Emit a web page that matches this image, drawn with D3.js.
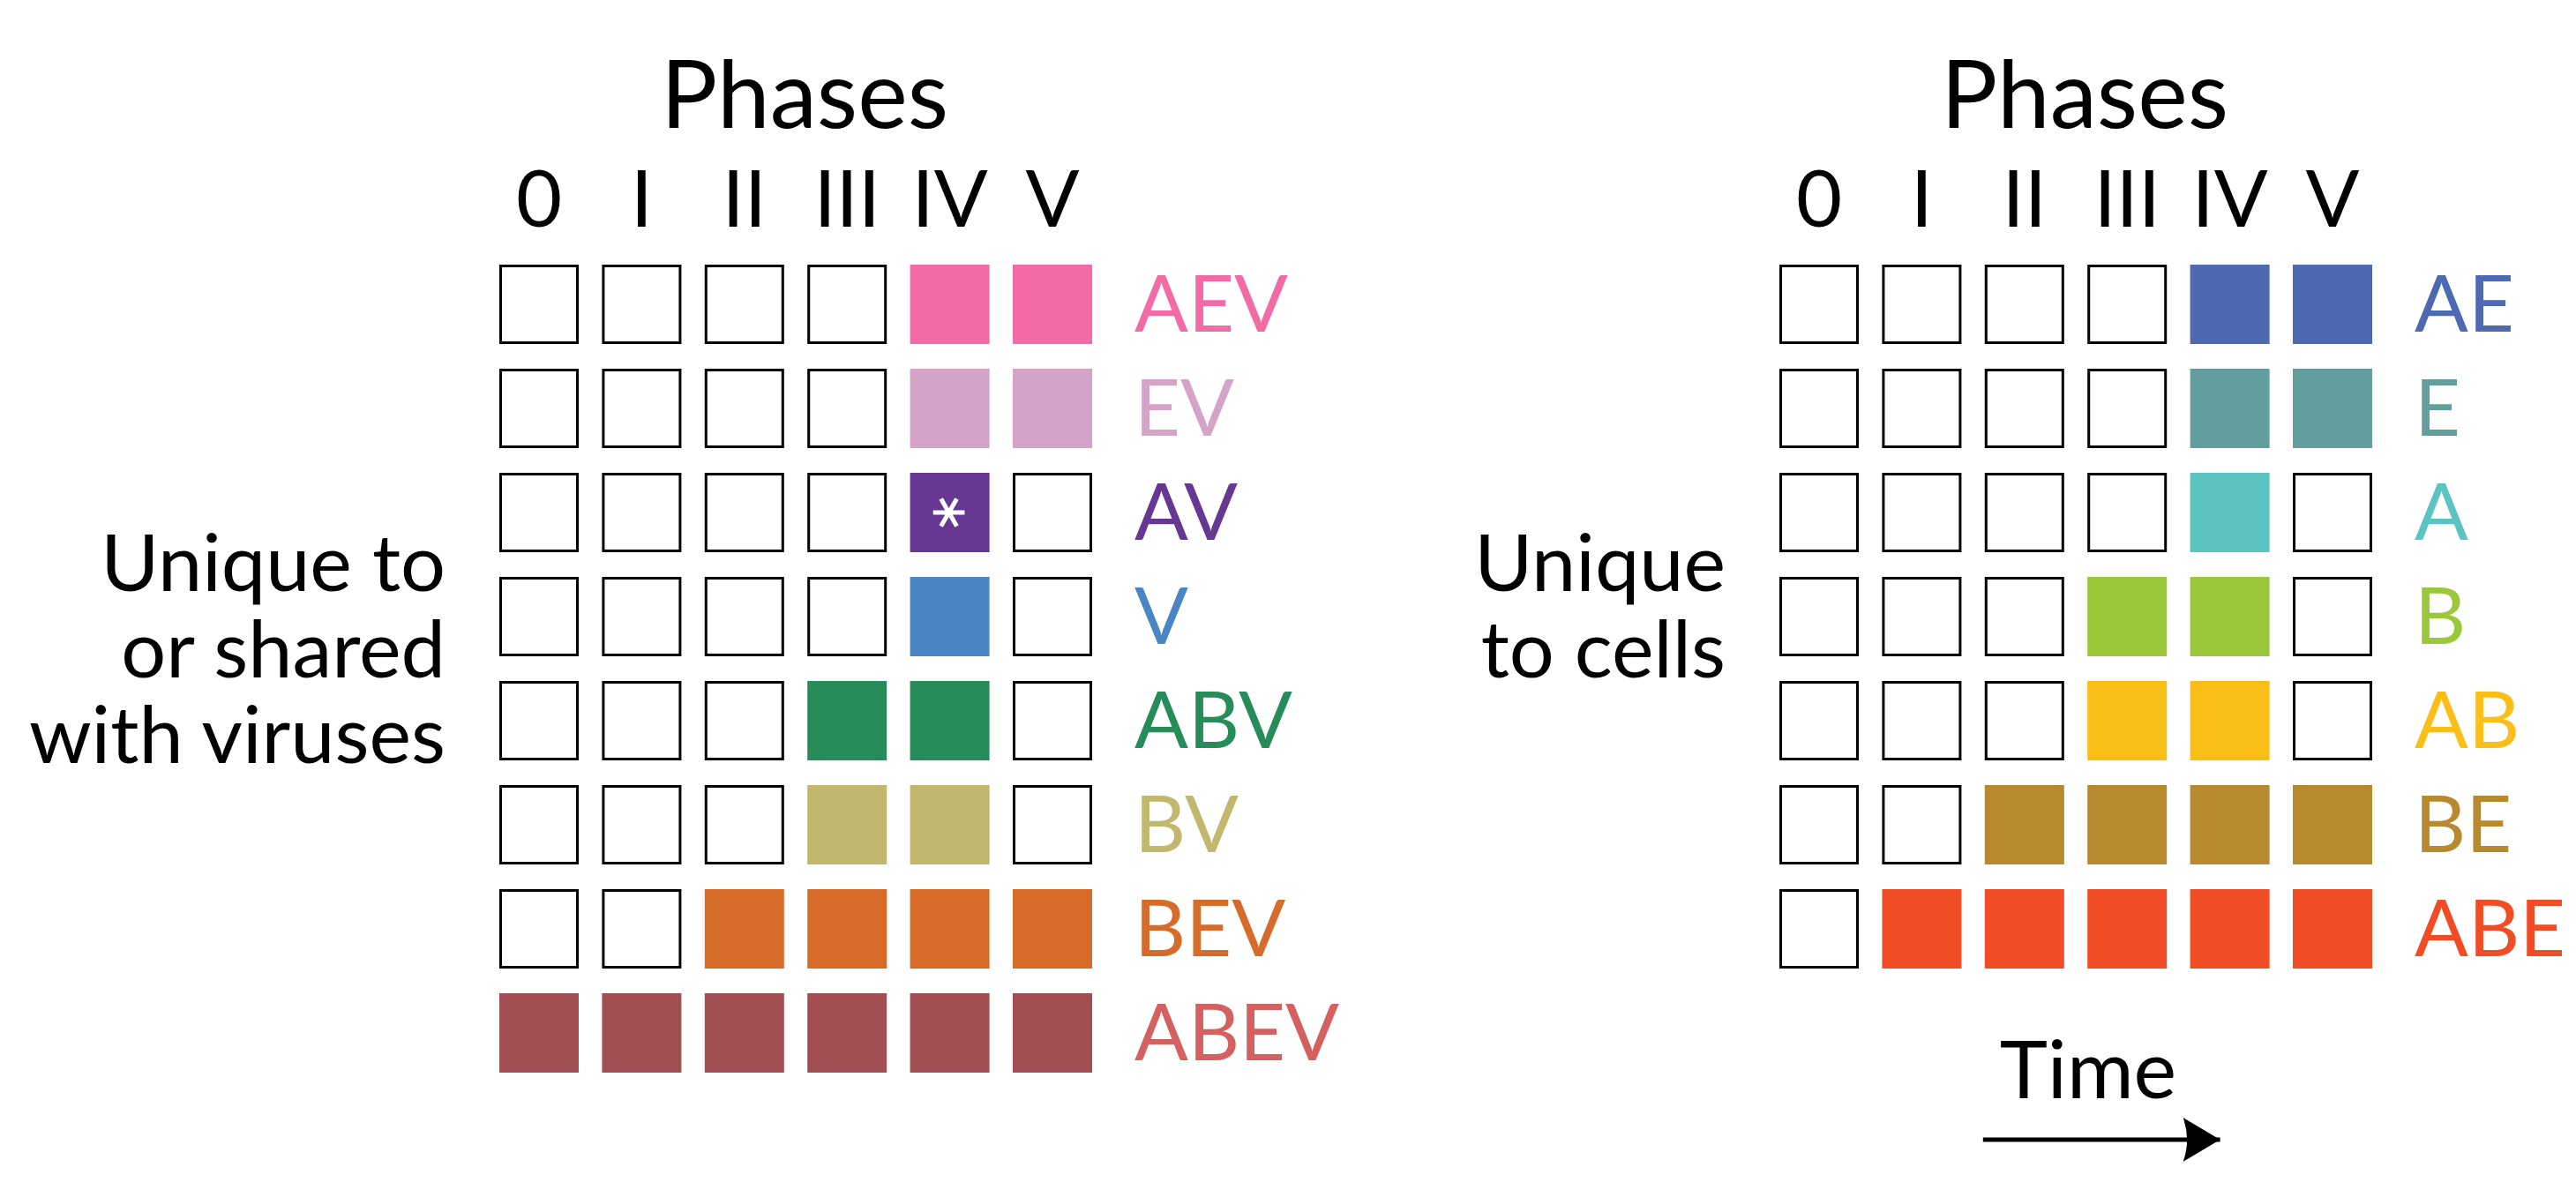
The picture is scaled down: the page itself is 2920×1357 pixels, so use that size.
<!DOCTYPE html>
<html>
<head>
<meta charset="utf-8">
<script src="https://cdn.jsdelivr.net/npm/d3@7"></script>
<style>
  body { margin: 0; background: #fff; }
  svg text { font-family: Lato, "Open Sans", sans-serif; }
</style>
</head>
<body>
<div id="chart"></div>
<script>
const W = 2920, H = 1357;

// phases (columns) shared by both panels
const phases = ["0", "I", "II", "III", "IV", "V"];

// left panel: genes unique to or shared with viruses
const virusRows = ["AEV", "EV", "AV", "V", "ABV", "BV", "BEV", "ABEV"];
const virusColors = ["#f26ba7", "#d5a3c8", "#663893", "#4a86c4", "#268c5a", "#c1b76d", "#d66b2a", "#a14f52"];
const virusLabelColors = ["#f26ba7", "#d5a3c8", "#663893", "#4a86c4", "#268c5a", "#c1b76d", "#d66b2a", "#d46060"];
const virusPresence = [
  [0, 0, 0, 0, 1, 1],
  [0, 0, 0, 0, 1, 1],
  [0, 0, 0, 0, 1, 0],
  [0, 0, 0, 0, 1, 0],
  [0, 0, 0, 1, 1, 0],
  [0, 0, 0, 1, 1, 0],
  [0, 0, 1, 1, 1, 1],
  [1, 1, 1, 1, 1, 1]
];
// cell marked with an asterisk: [row, phase]
const virusStar = [["AV", "IV"]];

// right panel: genes unique to cells
const cellRows = ["AE", "E", "A", "B", "AB", "BE", "ABE"];
const cellColors = ["#4d69b1", "#619e9d", "#5bc4c3", "#9bc83b", "#f9be17", "#b88a2f", "#f04c25"];
const cellPresence = [
  [0, 0, 0, 0, 1, 1],
  [0, 0, 0, 0, 1, 1],
  [0, 0, 0, 0, 1, 0],
  [0, 0, 0, 1, 1, 0],
  [0, 0, 0, 1, 1, 0],
  [0, 0, 1, 1, 1, 1],
  [0, 1, 1, 1, 1, 1]
];

const box = 90, stepX = 116.4, stepY = 118;
const gridTop = 300;

const svg = d3.select("#chart").append("svg")
  .attr("width", W).attr("height", H)
  .style("background", "#fff");

const drawPanel = (opts) => {
  const { x0, rows, colors, labelColors, presence, title, stars } = opts;
  const x = d3.scaleBand().domain(phases)
    .range([x0, x0 + (phases.length - 1) * stepX + box])
    .paddingInner(1 - box / stepX).paddingOuter(0);
  const y = d3.scaleBand().domain(rows)
    .range([gridTop, gridTop + (rows.length - 1) * stepY + box])
    .paddingInner(1 - box / stepY).paddingOuter(0);

  const g = svg.append("g");
  const gridRight = x0 + (phases.length - 1) * stepX + box;
  const mid = (x0 + gridRight) / 2;

  g.append("text")
    .attr("x", mid + 10).attr("y", 145)
    .attr("text-anchor", "middle")
    .attr("font-size", 107)
    .text("Phases");

  g.selectAll(".phase").data(phases).enter().append("text")
    .attr("x", d => x(d) + x.bandwidth() / 2)
    .attr("y", 257)
    .attr("text-anchor", "middle")
    .attr("font-size", 90)
    .text(d => d);

  const cells = [];
  rows.forEach((r, i) => phases.forEach((p, j) =>
    cells.push({ r, p, on: presence[i][j], color: colors[i] })));

  g.selectAll(".cell").data(cells).enter().append("rect")
    .attr("x", d => d.on ? x(d.p) : x(d.p) + 1.5)
    .attr("y", d => d.on ? y(d.r) : y(d.r) + 1.5)
    .attr("width", d => d.on ? box : box - 3)
    .attr("height", d => d.on ? box : box - 3)
    .attr("fill", d => d.on ? d.color : "#fff")
    .attr("stroke", d => d.on ? "none" : "#000")
    .attr("stroke-width", 3);

  (stars || []).forEach(([r, p]) => {
    g.append("path")
      .attr("d", d3.symbol(d3.symbolAsterisk, 900)())
      .attr("transform", `translate(${x(p) + box / 2 - 1},${y(r) + box / 2}) rotate(90)`)
      .attr("fill", "none")
      .attr("stroke", "#fff")
      .attr("stroke-width", 5);
  });

  g.selectAll(".rowlab").data(rows).enter().append("text")
    .attr("x", gridRight + 48)
    .attr("y", d => y(d) + box / 2 + 31)
    .attr("font-size", 90)
    .attr("fill", (d, i) => labelColors[i])
    .text(d => d);

  const t = g.append("text")
    .attr("x", x0 - 61).attr("y", 670)
    .attr("text-anchor", "end")
    .attr("font-size", 90);
  title.forEach((line, i) => t.append("tspan")
    .attr("x", x0 - 61).attr("dy", i ? 97.5 : 0).text(line));

  return { x, y, mid, gridRight };
};

drawPanel({
  x0: 566, rows: virusRows, colors: virusColors, labelColors: virusLabelColors,
  presence: virusPresence, title: ["Unique to", "or shared", "with viruses"], stars: virusStar
});

const right = drawPanel({
  x0: 2017, rows: cellRows, colors: cellColors, labelColors: cellColors,
  presence: cellPresence, title: ["Unique", "to cells"]
});

// time arrow under the right panel
svg.append("defs").append("marker")
  .attr("id", "arrow")
  .attr("viewBox", "0 0 42 50")
  .attr("refX", 42).attr("refY", 25)
  .attr("markerUnits", "userSpaceOnUse")
  .attr("markerWidth", 42).attr("markerHeight", 50)
  .attr("orient", "auto")
  .append("path")
  .attr("d", "M0,0 L42,25 L0,50 Q9,25 0,0 Z")
  .attr("fill", "#000");

svg.append("text")
  .attr("x", right.mid + 14).attr("y", 1245)
  .attr("text-anchor", "middle")
  .attr("font-size", 92)
  .text("Time");

svg.append("line")
  .attr("x1", right.x("II") - 2).attr("x2", right.x("IV") + 34)
  .attr("y1", 1292).attr("y2", 1292)
  .attr("stroke", "#000").attr("stroke-width", 5)
  .attr("marker-end", "url(#arrow)");
</script>
</body>
</html>
